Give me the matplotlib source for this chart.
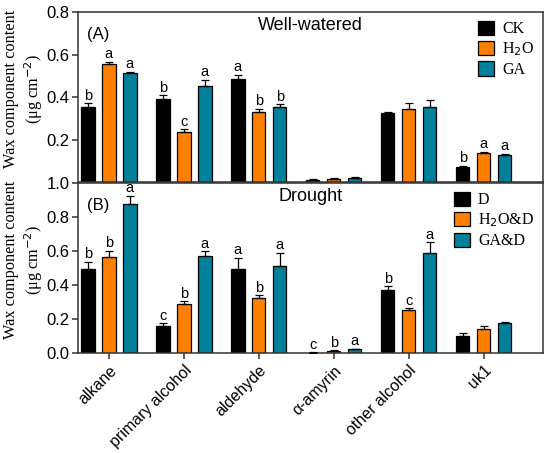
import matplotlib
matplotlib.use("Agg")
import matplotlib.pyplot as plt
import numpy as np
from matplotlib.patches import Patch

categories = ["alkane", "primary alcohol", "aldehyde", "α-amyrin", "other alcohol", "uk1"]

ww_labels = ["CK", "H$_2$O", "GA"]
ww_ck = [0.355, 0.39, 0.485, 0.011, 0.325, 0.072]
ww_h2o = [0.555, 0.235, 0.33, 0.015, 0.346, 0.139]
ww_ga = [0.515, 0.45, 0.352, 0.02, 0.355, 0.128]
ww_ck_err = [0.015, 0.018, 0.02, 0.002, 0.003, 0.004]
ww_h2o_err = [0.01, 0.013, 0.015, 0.002, 0.024, 0.003]
ww_ga_err = [0.004, 0.03, 0.013, 0.003, 0.033, 0.003]
ww_ck_sig = ["b", "b", "a", "", "", "b"]
ww_h2o_sig = ["a", "c", "b", "", "", "a"]
ww_ga_sig = ["a", "a", "b", "", "", "a"]

dr_labels = ["D", "H$_2$O&D", "GA&D"]
dr_d = [0.496, 0.156, 0.493, 0.002, 0.373, 0.102]
dr_h2o = [0.563, 0.29, 0.326, 0.012, 0.253, 0.143]
dr_ga = [0.878, 0.568, 0.51, 0.022, 0.587, 0.175]
dr_d_err = [0.039, 0.018, 0.066, 0.001, 0.02, 0.014]
dr_h2o_err = [0.037, 0.014, 0.013, 0.004, 0.009, 0.014]
dr_ga_err = [0.047, 0.03, 0.078, 0.004, 0.063, 0.006]
dr_d_sig = ["b", "c", "a", "c", "b", ""]
dr_h2o_sig = ["b", "b", "b", "b", "c", ""]
dr_ga_sig = ["a", "a", "a", "a", "a", ""]

colors = ["#000000", "#FF8000", "#00809A"]
spine_col = "#333333"

fig = plt.figure(figsize=(5.5, 4.53), dpi=100)
ax1 = fig.add_axes([0.142, 0.598, 0.845, 0.3755])
ax2 = fig.add_axes([0.142, 0.2208, 0.845, 0.3752])

x = np.arange(len(categories))
offsets = [-0.28, 0.0, 0.28]
width = 0.18

def draw(ax, series, errs, sigs, labels, ylim, yticks, title, tag, pad):
    for k in range(3):
        xs = x + offsets[k]
        ax.bar(xs, series[k], width, color=colors[k], edgecolor="black", linewidth=0.9, zorder=2)
        ax.errorbar(xs, series[k], yerr=[np.zeros(len(xs)), errs[k]], fmt="none",
                    ecolor="black", elinewidth=0.9, capsize=3, capthick=0.9, zorder=3)
        for xi, v, e, s in zip(xs, series[k], errs[k], sigs[k]):
            if s:
                ax.text(xi, v + e + pad, s, ha="center", va="bottom",
                        fontsize=10.5, family="Liberation Sans")
    ax.set_xlim(-0.41, 5.79)
    ax.set_ylim(*ylim)
    ax.set_yticks(yticks)
    ax.set_yticklabels([f"{t:.1f}" for t in yticks], family="Liberation Sans", fontsize=12)
    for sp in ["top", "right", "left", "bottom"]:
        ax.spines[sp].set_color(spine_col)
        ax.spines[sp].set_linewidth(1.1)
    ax.tick_params(axis="y", direction="out", length=4, width=1.1, color=spine_col, pad=2)
    ax.text(0.5, 0.97, title, transform=ax.transAxes, ha="center", va="top",
            fontsize=13, family="Liberation Sans")
    ax.text(0.02, 0.91, tag, transform=ax.transAxes, ha="left", va="top",
            fontsize=12, family="Liberation Sans")
    handles = [Patch(facecolor=colors[k], edgecolor="black", linewidth=0.9) for k in range(3)]
    ax.legend(handles, labels, loc="upper right", frameon=False,
              prop={"family": "Liberation Serif", "size": 11.5},
              handlelength=1.0, handleheight=1.0, handletextpad=0.5,
              labelspacing=0.2, borderaxespad=0.15, bbox_to_anchor=(1.0, 1.0))
    ax.set_ylabel("Wax component content\n(μg cm$^{-2}$)", family="Liberation Serif",
                  fontsize=11.7, linespacing=1.2)
    ax.yaxis.set_label_coords(-0.072, 0.55)

draw(ax1, [ww_ck, ww_h2o, ww_ga], [ww_ck_err, ww_h2o_err, ww_ga_err],
     [ww_ck_sig, ww_h2o_sig, ww_ga_sig], ww_labels, (0, 0.8), [0.2, 0.4, 0.6, 0.8],
     "Well-watered", "(A)", 0.004)
draw(ax2, [dr_d, dr_h2o, dr_ga], [dr_d_err, dr_h2o_err, dr_ga_err],
     [dr_d_sig, dr_h2o_sig, dr_ga_sig], dr_labels, (0, 1.0), [0.0, 0.2, 0.4, 0.6, 0.8, 1.0],
     "Drought", "(B)", 0.004)

ax1.set_xticks([])
ax2.set_xticks(x)
ax2.set_xticklabels(categories, rotation=45, ha="right", rotation_mode="anchor",
                    family="Liberation Sans", fontsize=11.5)
ax2.tick_params(axis="x", direction="out", length=4, width=1.1, color=spine_col, pad=3)

fig.savefig("out.png", dpi=100)
